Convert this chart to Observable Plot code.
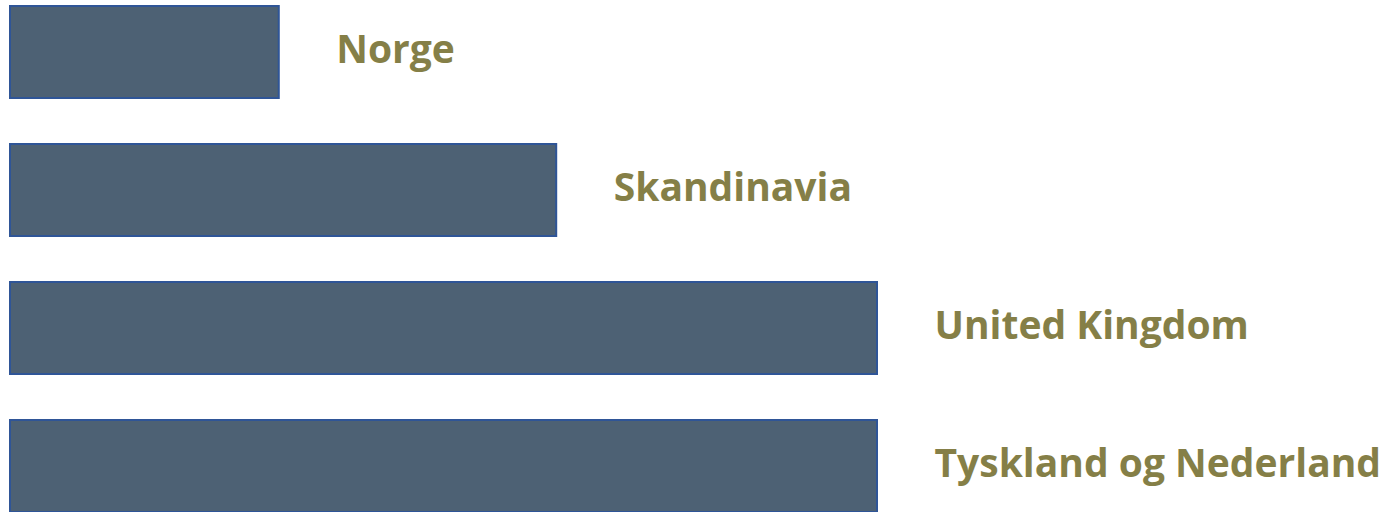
<!DOCTYPE html>
<html>
<head>
<meta charset="utf-8">
<script src="https://cdn.jsdelivr.net/npm/d3@7"></script>
<script src="https://cdn.jsdelivr.net/npm/@observablehq/plot@0.6"></script>
<style>
  html, body { margin: 0; padding: 0; background: #ffffff; }
  #chart svg { display: block; overflow: visible; }
</style>
</head>
<body>
<div id="chart"></div>
<script>
const categories = ["Norge", "Skandinavia", "United Kingdom", "Tyskland og Nederland"];
const values = [31, 63, 100, 100];

const data = categories.map((c, i) => ({ category: c, value: values[i] }));

const chart = Plot.plot({
  width: 1397,
  height: 512,
  marginLeft: 10,
  marginRight: 520,
  marginTop: 5,
  marginBottom: 0,
  style: { background: "#ffffff" },
  x: { domain: [0, 100], axis: null },
  y: { domain: categories, axis: null, paddingInner: 0.336, paddingOuter: 0 },
  marks: [
    Plot.barX(data, {
      x: "value",
      y: "category",
      fill: "#4d6174",
      stroke: "#2f5597",
      strokeWidth: 2
    }),
    Plot.text(data, {
      x: "value",
      y: "category",
      text: "category",
      textAnchor: "start",
      dx: 57,
      dy: -2,
      fill: "#857f47",
      fontFamily: "Open Sans",
      fontWeight: "bold",
      fontSize: 39
    })
  ]
});

document.getElementById("chart").appendChild(chart);
</script>
</body>
</html>
